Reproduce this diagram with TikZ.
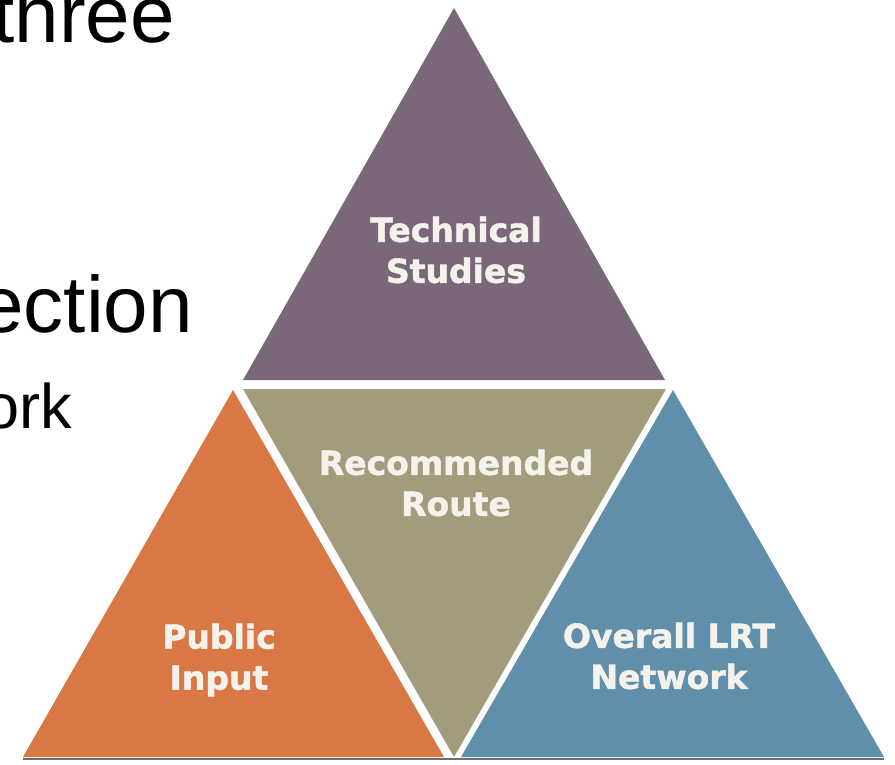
\documentclass[tikz,border=0pt]{standalone}
\usepackage{fontspec}
\setmainfont{Liberation Sans}
\newfontfamily\labelfont[BoldFeatures={FakeBold=1.6}]{DejaVu Sans}
\definecolor{techpurple}{HTML}{7A687A}
\definecolor{routekhaki}{HTML}{A39C7C}
\definecolor{inputorange}{HTML}{D97845}
\definecolor{networkblue}{HTML}{5F8FAB}
\definecolor{labeltext}{HTML}{F5F2EC}
\definecolor{shadowgray}{HTML}{6E6E6E}
\begin{document}
\begin{tikzpicture}[x=1pt,y=-1pt,
  lbl/.style={text=labeltext, font=\labelfont\bfseries\fontsize{33}{41}\selectfont, align=center, inner sep=0pt},
  bigtxt/.style={font=\fontsize{80}{96}\selectfont, inner sep=0pt, anchor=base east},
  smalltxt/.style={font=\fontsize{63}{76}\selectfont, inner sep=0pt, anchor=base east}]
\useasboundingbox (0,0) rectangle (895,764);
\fill[white] (0,0) rectangle (895,764);
% bullet text fragments
\node[bigtxt] (three) at (175,42) {three};
\node[bigtxt] (ection) at (193,332) {ection};
\node[smalltxt] (ork) at (72,428) {ork};
% bottom shadow
\draw[shadowgray, line width=1.5pt] (23,759) -- (884,759);
% triangles
\fill[techpurple] (454,8) -- (665,380) -- (243,380) -- cycle;
\fill[routekhaki] (243,389) -- (666,389) -- (454,757) -- cycle;
\fill[inputorange] (233,390) -- (444,757) -- (23,757) -- cycle;
\fill[networkblue] (673,390) -- (884,757) -- (461,757) -- cycle;
% labels
\node[lbl] (tech) at (456,250) {Technical\\Studies};
\node[lbl] (route) at (456,483) {Recommended\\Route};
\node[lbl] (public) at (219,660) {Public\\Input};
\node[lbl] (network) at (669,656) {Overall LRT\\Network};
\end{tikzpicture}
\end{document}
